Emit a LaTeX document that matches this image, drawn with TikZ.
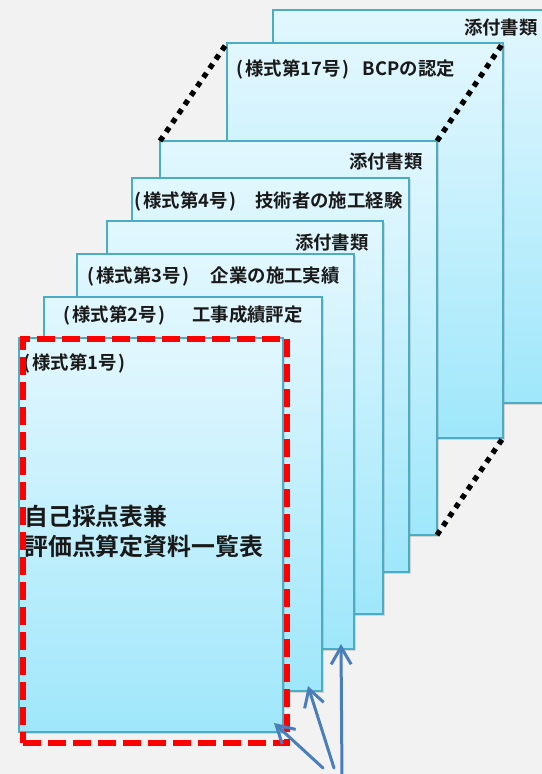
\documentclass[tikz,border=0pt]{standalone}
\usepackage{fontspec}
\setmainfont{Noto Sans CJK JP}[BoldFont={Noto Sans CJK JP Bold}]
\usetikzlibrary{arrows.meta,shadows,calc}
\definecolor{bg}{HTML}{F2F2F2}
\definecolor{cardtop}{HTML}{E2F7FE}
\definecolor{cardbot}{HTML}{9FE7FB}
\definecolor{cardedge}{HTML}{4BACC6}
\definecolor{arrowblue}{HTML}{4A7EBB}
\tikzset{
  card/.style={draw=cardedge, line width=1.5pt, top color=cardtop, bottom color=cardbot,
    anchor=north west, inner sep=0pt, outer sep=0pt,
    drop shadow={opacity=0.25, shadow xshift=1.5pt, shadow yshift=-1.5pt}},
  lbl/.style={font=\bfseries\fontsize{13.8pt}{16pt}\selectfont, inner sep=0pt, text=black!90},
  biglbl/.style={font=\bfseries\fontsize{17.9pt}{22.5pt}\selectfont, inner sep=0pt, align=left, anchor=west, text=black!90},
  dotline/.style={line width=4pt, dash pattern=on 4pt off 4.25pt, black},
  hlbox/.style={draw=red, line width=4.5pt, dash pattern=on 13.5pt off 5.25pt, anchor=north west, inner sep=0pt},
  arr/.style={draw=arrowblue, line width=2.25pt, line cap=round, -{Straight Barb[length=13pt,width=15pt]}}
}
\newcommand\mkcard[5]{\node[card, minimum width={(#4-#2)*0.75pt}, minimum height={(#5-#3)*0.75pt}] (#1) at (#2,#3) {};}
\newcommand\yoshiki[1]{(\kern1.3pt 様式第#1号\kern1.3pt)}
\begin{document}
\begin{tikzpicture}[x=0.75pt,y=-0.75pt]
\fill[bg] (0,0) rectangle (542,774);
\useasboundingbox (0,0) rectangle (542,774);
% cards, back to front
\mkcard{c1}{273}{10}{575}{403}
\mkcard{c2}{227}{43}{503}{438}
\mkcard{c3}{160}{141}{437}{535}
\mkcard{c4}{132}{178}{409}{572}
\mkcard{c5}{107}{221}{383}{614}
\mkcard{c6}{77}{254}{354}{649}
\mkcard{c7}{44}{297}{322}{691}
\mkcard{c8}{19}{338}{283}{732}
% labels
\node[lbl, anchor=east] (l1) at ([shift={(265,17)}]c1.north west) {添付書類};
\node[lbl, anchor=west] (l2) at ([shift={(9.5,26)}]c2.north west) {\yoshiki{17}\hspace{10pt}BCPの認定};
\node[lbl, anchor=east] (l3) at ([shift={(-14,20)}]c3.north east) {添付書類};
\node[lbl, anchor=west] (l4) at ([shift={(2.5,23)}]c4.north west) {\yoshiki{4}\hspace{14pt}技術者の施工経験};
\node[lbl, anchor=east] (l5) at ([shift={(-14,21)}]c5.north east) {添付書類};
\node[lbl, anchor=west] (l6) at ([shift={(10.5,22)}]c6.north west) {\yoshiki{3}\hspace{16pt}企業の施工実績};
\node[lbl, anchor=west] (l7) at ([shift={(19.5,18)}]c7.north west) {\yoshiki{2}\hspace{20pt}工事成績評定};
\node[lbl, anchor=west] (l8) at ([shift={(4.5,25)}]c8.north west) {\yoshiki{1}};
\node[biglbl] (big) at ([shift={(5,193)}]c8.north west) {自己採点表兼\\評価点算定資料一覧表};
% dotted connectors
\draw[dotline] (c3.north west) -- (c2.north west);
\draw[dotline] (c3.north east) -- (c2.north east);
\draw[dotline] (c3.south east) -- (c2.south east);
% highlight
\node[hlbox, minimum width={264*0.75pt}, minimum height={404*0.75pt}] (hl) at (20,336) {};
% arrows
\coordinate (s1) at (323,768);
\coordinate (s2) at (334,768);
\coordinate (s3) at (342,778);
\draw[arr] (s1) -- ([shift={(-9,-9)}]c8.south east);
\draw[arr] (s2) -- ([shift={(-14,-5)}]c7.south east);
\draw[arr] (s3) -- ([shift={(-13,-5)}]c6.south east);
\end{tikzpicture}
\end{document}
